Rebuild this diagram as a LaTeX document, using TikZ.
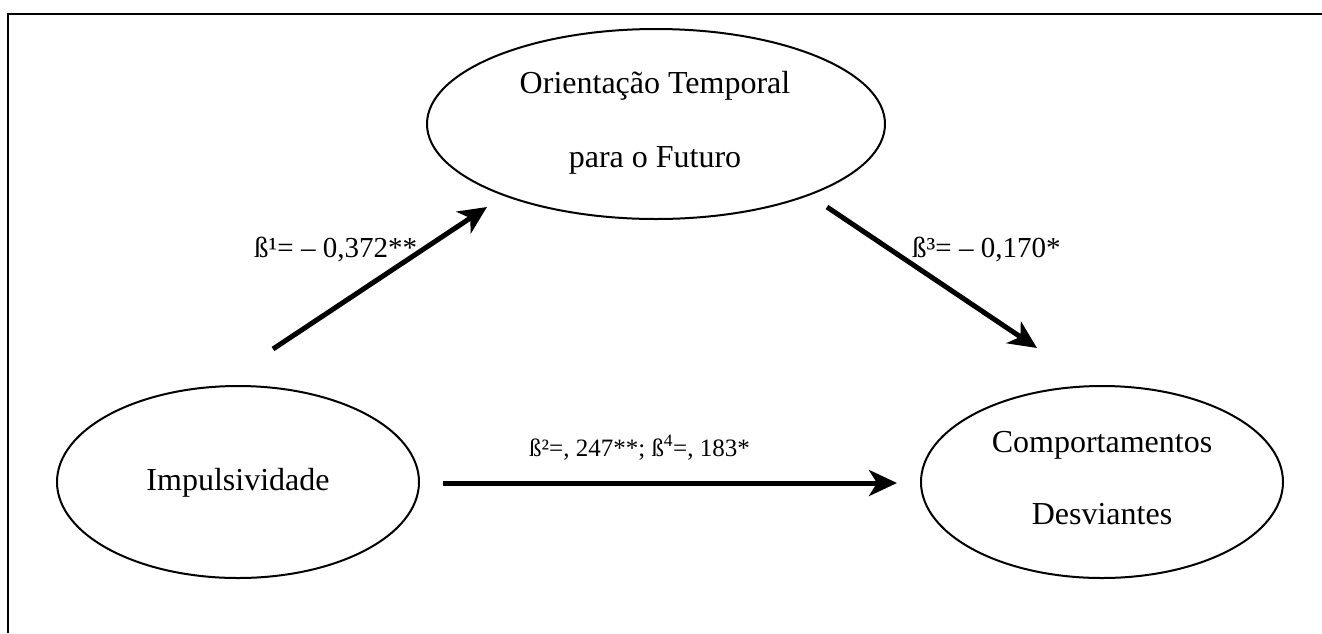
\documentclass[tikz,border=0pt]{standalone}
\usepackage{fontspec}
\setmainfont{Liberation Serif}
\usetikzlibrary{shapes.geometric,arrows.meta}
\begin{document}
\begin{tikzpicture}[x=1pt,y=-1pt,
  var/.style={draw=black,line width=2pt,ellipse,inner sep=0pt},
  txt/.style={anchor=base,inner sep=0pt,font=\fontsize{32}{38}\selectfont},
  lab/.style={anchor=base west,inner sep=0pt,font=\fontsize{29}{34}\selectfont},
  path/.style={line width=5pt,-{Stealth[length=28pt,width=26pt,inset=8pt]}}]
\useasboundingbox (0,0) rectangle (1322,633);
% frame (top and left edges)
\draw[line width=2.2pt] (8,633) -- (8,14) -- (1322,14);
% variables
\node[var,minimum width=458pt,minimum height=190pt] (fut) at (656,124) {};
\node[var,minimum width=362pt,minimum height=192pt] (imp) at (238,482) {};
\node[var,minimum width=362pt,minimum height=192pt] (dev) at (1102,482) {};
\node[txt] (fut1) at (655,93) {Orientação Temporal};
\node[txt] (fut2) at (655,167) {para o Futuro};
\node[txt] (imp1) at (238,490) {Impulsividade};
\node[txt] (dev1) at (1102,452) {Comportamentos};
\node[txt] (dev2) at (1102,524) {Desviantes};
% arrow ends
\coordinate (a1s) at (273,349);
\coordinate (a1e) at (487,207);
\coordinate (a2s) at (443,483);
\coordinate (a2e) at (897,483);
\coordinate (a3s) at (827,207);
\coordinate (a3e) at (1037,348);
\draw[path] (a1s) -- (a1e);
\draw[path] (a2s) -- (a2e);
\draw[path] (a3s) -- (a3e);
% labels
\node[lab] (l1) at (254,257) {ß¹= – 0,372**};
\node[lab] (l3) at (912,257) {ß³= – 0,170*};
\node[lab,font=\fontsize{25}{30}\selectfont] (l2) at (529,456) {ß²=, 247**; ß\textsuperscript{4}=, 183*};
\end{tikzpicture}
\end{document}
